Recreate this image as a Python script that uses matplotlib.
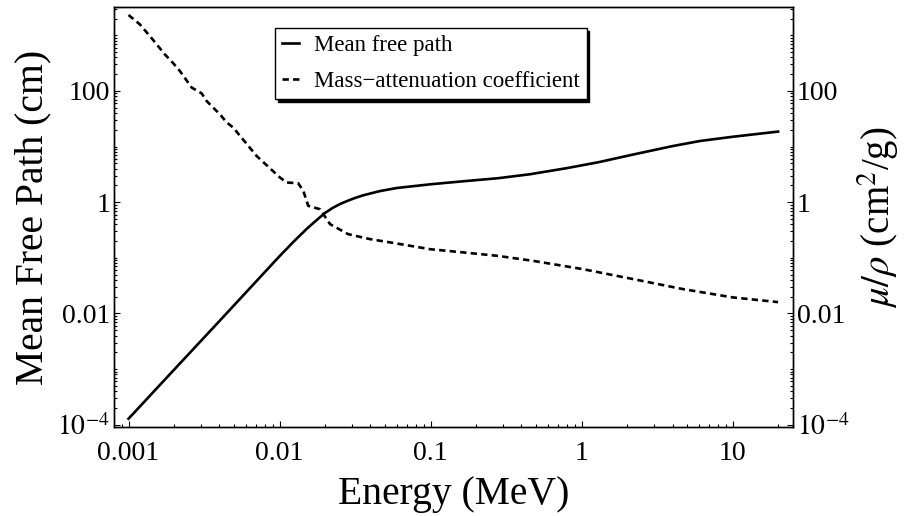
import numpy as np
import matplotlib
matplotlib.use("Agg")
import matplotlib.pyplot as plt
from matplotlib.ticker import FixedLocator, FixedFormatter, LogLocator, NullFormatter

plt.rcParams["font.family"] = "serif"
plt.rcParams["font.serif"] = ["Liberation Serif", "DejaVu Serif"]
plt.rcParams["mathtext.fontset"] = "stix"

# photon energy (MeV) vs mean free path (cm)
mfp_energy = [0.001, 0.002, 0.004, 0.007, 0.01, 0.0125, 0.0151, 0.0175,
              0.02, 0.0225, 0.025, 0.0278, 0.031, 0.0358, 0.046, 0.0597,
              0.1, 0.165, 0.28, 0.455, 0.8, 1.3, 2.25, 4.0, 6.08, 10.0, 20.0]
mfp_cm = [1.28e-4, 9.7e-4, 7.3e-3, 0.0376, 0.107, 0.20, 0.33, 0.47,
          0.64, 0.79, 0.92, 1.04, 1.17, 1.33, 1.58, 1.80,
          2.10, 2.38, 2.70, 3.18, 4.10, 5.25, 7.3, 10.2, 12.6, 15.0, 18.6]

# photon energy (MeV) vs mass-attenuation coefficient (cm^2/g)
att_energy = [0.001, 0.00119, 0.001445, 0.00174, 0.00197, 0.00219, 0.00262,
              0.00305, 0.00329, 0.00403, 0.00446, 0.00494, 0.00705, 0.01006,
              0.01115, 0.0133, 0.01436, 0.0155, 0.01853, 0.0216, 0.0285,
              0.0397, 0.0597, 0.0991, 0.165, 0.274, 0.477, 1.02, 2.19,
              4.69, 10.07, 20.0]
att_coeff = [2323, 1570, 844, 454, 319, 228, 115,
             90.6, 65.9, 38.0, 27.3, 21.9, 6.78, 2.78,
             2.26, 2.19, 1.60, 0.859, 0.748, 0.403, 0.266,
             0.217, 0.181, 0.143, 0.125, 0.109, 0.0883, 0.0626, 0.0415,
             0.0274, 0.0194, 0.0160]

x_ticks = [0.001, 0.01, 0.1, 1, 10]
x_tick_labels = ["0.001", "0.01", "0.1", "1", "10"]
y_ticks = [1e-4, 1e-2, 1, 100]
y_tick_labels = [r"$10^{-4}$", "0.01", "1", "100"]

fig = plt.figure(figsize=(9.07, 5.16), dpi=100)
ax1 = fig.add_axes([0.126, 0.172, 0.748, 0.814])
ax2 = ax1.twinx()

line1, = ax1.plot(mfp_energy, mfp_cm, color="black", lw=1.9,
                  label="Mean free path")
line2, = ax2.plot(att_energy, att_coeff, color="black", lw=1.9,
                  dashes=(2.4, 1.6), label="Mass\u2212attenuation coefficient")

for ax in (ax1, ax2):
    ax.set_xscale("log")
    ax.set_yscale("log")
    ax.set_xlim(0.000805, 25)
    ax.set_ylim(9.0e-5, 3200)
    ax.yaxis.set_major_locator(FixedLocator(y_ticks))
    ax.yaxis.set_major_formatter(FixedFormatter(y_tick_labels))
    ax.yaxis.set_minor_locator(LogLocator(base=10, subs=np.arange(1, 10), numticks=100))
    ax.yaxis.set_minor_formatter(NullFormatter())
    for s in ax.spines.values():
        s.set_linewidth(1.0)

ax1.xaxis.set_major_locator(FixedLocator(x_ticks))
ax1.xaxis.set_major_formatter(FixedFormatter(x_tick_labels))
ax1.xaxis.set_minor_locator(LogLocator(base=10, subs=np.arange(2, 10), numticks=100))
ax1.xaxis.set_minor_formatter(NullFormatter())

ax1.tick_params(which="both", direction="in", top=False, right=False, width=0.8)
ax1.tick_params(which="major", length=4.5, labelsize=20)
ax1.tick_params(axis="y", which="major", pad=3)
ax1.tick_params(axis="x", which="major", pad=10)
ax1.tick_params(which="minor", length=2.5)
ax2.tick_params(which="both", direction="in", width=0.8)
ax2.tick_params(which="major", length=4.5, labelsize=20, pad=3)
ax2.tick_params(which="minor", length=2.5)

ax1.set_xlabel("Energy (MeV)", fontsize=28.5, labelpad=7)
ax1.set_ylabel("Mean Free Path (cm)", fontsize=28.5, labelpad=4)
ax2.set_ylabel(r"$\mu/\rho$ (cm$^2$/g)", fontsize=28, labelpad=4)

leg = ax2.legend([line1, line2], [line1.get_label(), line2.get_label()],
                 loc="upper left", bbox_to_anchor=(275 / 907, 1 - 28 / 516),
                 bbox_transform=fig.transFigure, borderaxespad=0,
                 fontsize=16.5, handlelength=0.75, handletextpad=0.65,
                 borderpad=0.3, labelspacing=0.65, fancybox=False,
                 framealpha=1, edgecolor="black",
                 shadow={"facecolor": "black", "edgecolor": "black", "alpha": 1})
leg.get_frame().set_linewidth(1.0)

fig.savefig("out.png", dpi=100)
